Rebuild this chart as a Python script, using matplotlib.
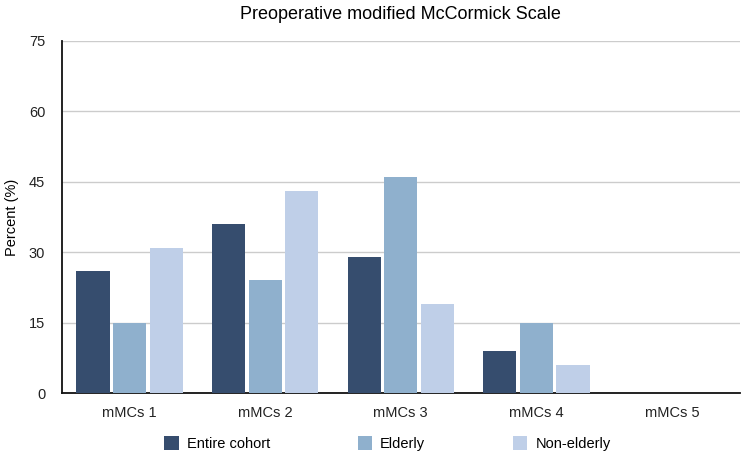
import matplotlib
matplotlib.use("Agg")
import matplotlib.pyplot as plt
import numpy as np

plt.rcParams['font.family'] = ['Liberation Sans', 'DejaVu Sans']

categories = ["mMCs 1", "mMCs 2", "mMCs 3", "mMCs 4", "mMCs 5"]
entire = [26, 36, 29, 9, 0]
elderly = [15, 24, 46, 15, 0]
non_elderly = [31, 43, 19, 6, 0]
series_names = ["Entire cohort", "Elderly", "Non-elderly"]
colors = ["#364d6e", "#8fb0cd", "#bfcfe8"]
yticks = [0, 15, 30, 45, 60, 75]

fig = plt.figure(figsize=(7.45, 4.55), dpi=100)
ax = fig.add_axes([0.083, 0.136, 0.91, 0.774])

x = np.arange(len(categories))
step = 0.27
width = 0.245
for i, (vals, name) in enumerate(zip([entire, elderly, non_elderly], series_names)):
    ax.bar(x + (i - 1) * step, vals, width, color=colors[i], label=name, zorder=3)

ax.set_xlim(-0.5, 4.5)
ax.set_ylim(0, 75)
ax.set_yticks(yticks)
ax.set_xticks(x)
ax.set_xticklabels(categories)
ax.tick_params(length=0, labelsize=10.5, colors="#222222")
ax.tick_params(axis="y", pad=12)
ax.tick_params(axis="x", pad=9)
ax.yaxis.grid(True, color="#cccccc", linewidth=1, zorder=0)
for s in ["top", "right"]:
    ax.spines[s].set_visible(False)
ax.spines["left"].set_color("#111111")
ax.spines["bottom"].set_color("#111111")
ax.spines["left"].set_linewidth(1.3)
ax.spines["bottom"].set_linewidth(1.3)
ax.set_ylabel("Percent (%)", fontsize=10.5, labelpad=7)
ax.set_title("Preoperative modified McCormick Scale", fontsize=13, pad=16)

fig.legend(loc="lower center", bbox_to_anchor=(0.52, -0.02), ncol=3, frameon=False,
           fontsize=10.5, handlelength=1.0, handleheight=1.1, columnspacing=6.0,
           handletextpad=0.55)

fig.savefig("out.png", dpi=100)
